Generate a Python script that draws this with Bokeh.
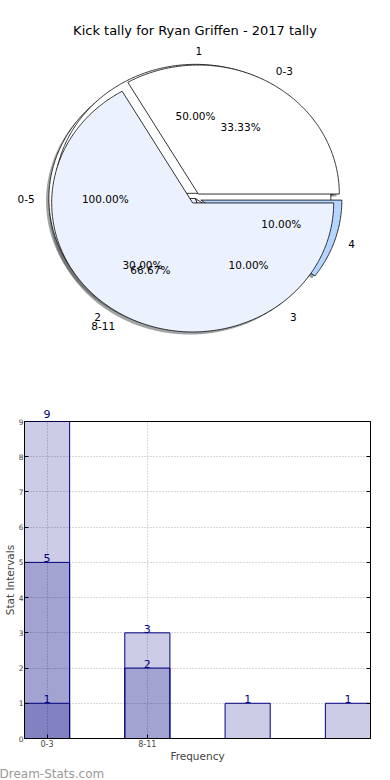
import math
from bokeh.plotting import figure
from bokeh.layouts import column
from bokeh.models import FixedTicker, Range1d, ColumnDataSource, Title, LinearAxis
from bokeh.core.properties import value
from bokeh.embed import file_html
from bokeh.resources import INLINE

# ---------------- data ----------------
title_text = "Kick tally for Ryan Griffen - 2017 tally"

pie_a_labels = ["1", "2", "3", "4"]
pie_a_values = [5, 3, 1, 1]
pie_b_labels = ["0-3", "8-11"]
pie_b_values = [1, 2]
pie_c_labels = ["0-5"]
pie_c_values = [1]

bar_tick_labels = ["0-3", "8-11"]
bar_layer1 = [9, 3, 1, 1]
bar_layer2 = [5, 2]
bar_layer3 = [1]
x_label = "Frequency"
y_label = "Stat Intervals"
watermark = "Dream-Stats.com"

# ---------------- styles ----------------
FONT = "DejaVu Sans"
pie_a_colors = ["#ffffff", "#EBF1FD", "#EBF1FD", "#B5D5FF"]
pie_a_explode = [0.04, 0.0, 0.0, 0.04]
pie_b_colors = ["#ffffff", "#EBF1FD"]
pie_b_explode = [0.04, 0.04]
pie_c_colors = ["#ffffff"]
pie_c_explode = [0.04]
label_explode = 0.04

W = 390
PIE_H, BAR_H = 400, 380
PIE_CX, PIE_CY = 195.0, 198.0      # pixel centre of the pie
PIE_SX, PIE_SY = 141.0, 129.0      # pixels per unit radius
Y_MAX = 9


def shade(hex_color):
    h = hex_color.lstrip("#")
    r, g, b = (int(h[i:i + 2], 16) for i in (0, 2, 4))
    return "#%02x%02x%02x" % (int(r * 0.3), int(g * 0.3), int(b * 0.3))


def build_pie(values, labels, colors, explode):
    total = float(sum(values))
    wedges = dict(xs=[], ys=[], fill=[], sxs=[], sys=[], sfill=[])
    texts = dict(x=[], y=[], t=[], align=[])
    pcts = dict(x=[], y=[], t=[])
    start = 0.0
    for v, lab, col, ex in zip(values, labels, colors, explode):
        frac = v / total
        t1 = 2 * math.pi * start
        t2 = 2 * math.pi * (start + frac)
        mid = 0.5 * (t1 + t2)
        cx, cy = ex * math.cos(mid), ex * math.sin(mid)
        n = max(int((t2 - t1) / 0.01), 4)
        arc_x = [cx + math.cos(t1 + (t2 - t1) * k / n) for k in range(n + 1)]
        arc_y = [cy + math.sin(t1 + (t2 - t1) * k / n) for k in range(n + 1)]
        if frac < 0.9999:
            px = [cx] + arc_x + [cx]
            py = [cy] + arc_y + [cy]
        else:
            px, py = arc_x, arc_y
        wedges["xs"].append(px)
        wedges["ys"].append(py)
        wedges["fill"].append(col)
        wedges["sxs"].append([p - 0.02 for p in px])
        wedges["sys"].append([p - 0.02 for p in py])
        wedges["sfill"].append(shade(col))
        lx = (1.1 + label_explode) * math.cos(mid)
        ly = (1.1 + label_explode) * math.sin(mid)
        texts["x"].append(lx)
        texts["y"].append(ly)
        texts["t"].append(lab)
        texts["align"].append("left" if lx > 0 else "right")
        pcts["x"].append((0.6 + label_explode) * math.cos(mid))
        pcts["y"].append((0.6 + label_explode) * math.sin(mid))
        pcts["t"].append("%.2f%%" % (frac * 100))
        start += frac
    return wedges, texts, pcts


pies = [
    build_pie(pie_c_values, pie_c_labels, pie_c_colors, pie_c_explode),
    build_pie(pie_a_values, pie_a_labels, pie_a_colors, pie_a_explode),
    build_pie(pie_b_values, pie_b_labels, pie_b_colors, pie_b_explode),
]

# ---------------- pie figure ----------------
px0 = -PIE_CX / PIE_SX
px1 = (W - PIE_CX) / PIE_SX
py1 = PIE_CY / PIE_SY
py0 = py1 - PIE_H / PIE_SY
pie = figure(width=W, height=PIE_H, x_range=Range1d(px0, px1),
             y_range=Range1d(py0, py1), toolbar_location=None,
             output_backend="svg", min_border=0,
             x_axis_location=None, y_axis_location=None)
pie.frame_align = False
pie.outline_line_color = None
pie.grid.visible = False

for w, _, _ in pies:
    pie.patches(xs=w["sxs"], ys=w["sys"], fill_color=w["sfill"], fill_alpha=0.5,
                line_color=None)
for w, _, _ in pies:
    pie.patches(xs=w["xs"], ys=w["ys"], fill_color=w["fill"], line_color="black",
                line_width=0.8)
for _, t, pc in pies:
    pie.text(x="x", y="y", text="t", text_align="align", text_baseline="middle",
             source=ColumnDataSource(t), text_font=value(FONT),
             text_font_size="10.5px", text_color="black")
    pie.text(x="x", y="y", text="t", text_align="center", text_baseline="middle",
             source=ColumnDataSource(pc), text_font=value(FONT),
             text_font_size="10.5px", text_color="black")

pie.text(x=[(194.5 - PIE_CX) / PIE_SX], y=[(PIE_CY - 30) / PIE_SY], text=[title_text],
         text_align="center", text_baseline="middle", text_font=value(FONT),
         text_font_size="13px", text_color="black")

# ---------------- bar figure ----------------
bar = figure(width=W, height=BAR_H, x_range=Range1d(-0.225, 3.225),
             y_range=Range1d(0, Y_MAX), toolbar_location=None, output_backend="svg",
             min_border_top=21, min_border_right=20,
             min_border_left=0, min_border_bottom=0)
bar.frame_align = False
bar.outline_line_color = "black"
bar.outline_line_width = 1

xaxis_b = bar.below[0]
yaxis_l = bar.left[0]
x_ticks = list(range(len(bar_tick_labels)))
y_ticks = list(range(0, Y_MAX + 1))

xaxis_b.ticker = FixedTicker(ticks=x_ticks)
xaxis_b.major_label_overrides = {i: s for i, s in enumerate(bar_tick_labels)}
bar.xgrid.ticker = FixedTicker(ticks=x_ticks)
yaxis_l.ticker = FixedTicker(ticks=y_ticks)
bar.ygrid.ticker = FixedTicker(ticks=y_ticks)
for g in (bar.xgrid, bar.ygrid):
    g.grid_line_color = "#b0b0b0"
    g.grid_line_dash = "1 2"
    g.grid_line_width = 1
for ax in (xaxis_b, yaxis_l):
    ax.major_label_text_font = FONT
    ax.major_label_text_font_size = "8px"
    ax.major_tick_in = 4
    ax.major_tick_out = 0
    ax.minor_tick_line_color = None
    ax.axis_label_text_font = FONT
    ax.axis_label_text_font_size = "10.5px"
    ax.axis_label_text_font_style = "normal"
    ax.axis_line_color = "black"
    ax.major_label_standoff = 1
    ax.axis_label_standoff = 0
yaxis_l.major_label_text_font_size = "7.5px"
xaxis_b.axis_label = x_label
yaxis_l.axis_label = y_label

# ticks on the right side, without labels
right_axis = LinearAxis(ticker=FixedTicker(ticks=y_ticks),
                        major_label_overrides={t: "" for t in y_ticks},
                        major_tick_in=4, major_tick_out=0,
                        minor_tick_line_color=None, axis_line_color="black",
                        major_label_standoff=0)
bar.add_layout(right_axis, "right")

top_ticks, top_labels = [], {}
for layer in (bar_layer1, bar_layer2, bar_layer3):
    xs = list(range(len(layer)))
    bar.vbar(x=xs, top=layer, bottom=0, width=0.45, fill_color="navy",
             fill_alpha=0.2, line_color="navy", line_width=1)
    inside = [(x, v) for x, v in zip(xs, layer) if v < Y_MAX]
    for x, v in zip(xs, layer):
        if v >= Y_MAX:
            top_ticks.append(x)
            top_labels[x] = str(v)
    if inside:
        bar.text(x=[p[0] for p in inside], y=[p[1] for p in inside],
                 text=[str(p[1]) for p in inside], text_align="center",
                 text_baseline="bottom", text_color="navy",
                 text_font=value(FONT), text_font_size="11px")

# labels of bars reaching the top of the range sit above the frame
top_axis = LinearAxis(ticker=FixedTicker(ticks=top_ticks),
                      major_label_overrides=top_labels,
                      axis_line_color=None, major_tick_line_color=None,
                      minor_tick_line_color=None, major_label_standoff=-2,
                      major_label_text_color="navy", major_label_text_font=FONT,
                      major_label_text_font_size="11px")
bar.add_layout(top_axis, "above")

bar.add_layout(Title(text=watermark, align="left", text_font=FONT,
                     text_font_size="12px", text_color="#9a9a9a",
                     text_font_style="normal", standoff=0, offset=-25), "below")

layout = column(pie, bar, spacing=0)
open("out.html", "w").write(file_html(layout, INLINE))
